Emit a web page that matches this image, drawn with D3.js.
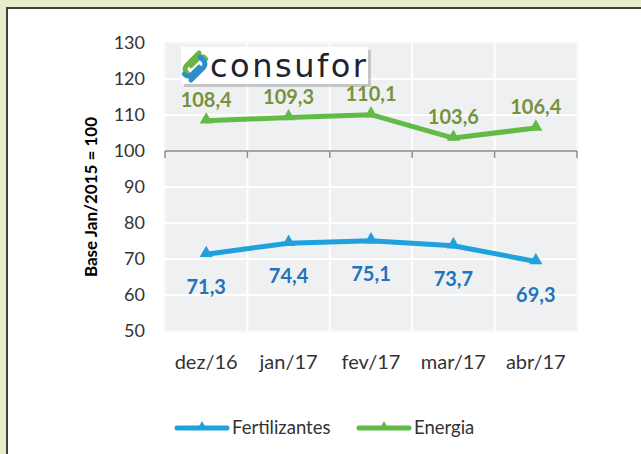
<!DOCTYPE html>
<html>
<head>
<meta charset="utf-8">
<script src="https://cdn.jsdelivr.net/npm/d3@7"></script>
<style>
  body { margin: 0; padding: 0; background: #e7edca; }
  svg { display: block; }
  text { font-family: Lato, "Open Sans", sans-serif; }
</style>
</head>
<body>
<div id="chart"></div>
<script>
// data
const months = ["dez/16", "jan/17", "fev/17", "mar/17", "abr/17"];
const fertilizantes = [71.3, 74.4, 75.1, 73.7, 69.3];
const energia = [108.4, 109.3, 110.1, 103.6, 106.4];
const yTicks = [50, 60, 70, 80, 90, 100, 110, 120, 130];
const seriesNames = ["Fertilizantes", "Energia"];

const W = 641, H = 454;
const svg = d3.select("#chart").append("svg")
    .attr("width", W)
    .attr("height", H);

// outer background + white panel with dark border
svg.append("rect").attr("width", W).attr("height", H).attr("fill", "#e7edca");
svg.append("rect")
    .attr("x", 7).attr("y", 8)
    .attr("width", W + 20).attr("height", H + 20)
    .attr("fill", "#ffffff")
    .attr("stroke", "#3d4236")
    .attr("stroke-width", 2);

// scales
const x = d3.scaleBand().domain(months).range([165, 577]);
const y = d3.scaleLinear().domain([50, 130]).range([331, 43]);

// plot area
svg.append("rect")
    .attr("x", 165).attr("y", y(130))
    .attr("width", 412).attr("height", y(50) - y(130))
    .attr("fill", "#eff0f2")
    .attr("stroke", "#f6f6f7")
    .attr("stroke-width", 2);

// gridlines
let grid = svg.append("g").attr("class", "grid");
grid.selectAll(".hgrid")
    .data(yTicks.filter(d => d !== 100 && d !== 50 && d !== 130))
    .enter().append("line")
    .attr("x1", 165).attr("x2", 577)
    .attr("y1", d => y(d)).attr("y2", d => y(d))
    .attr("stroke", "#ffffff").attr("stroke-width", 2);
grid.selectAll(".vgrid")
    .data(months.slice(1))
    .enter().append("line")
    .attr("x1", d => x(d)).attr("x2", d => x(d))
    .attr("y1", y(130)).attr("y2", y(50))
    .attr("stroke", "#ffffff").attr("stroke-width", 2);

// category axis crossing at 100
const bounds = months.map(d => x(d)).concat([x.range()[1]]);
let axisG = svg.append("g").attr("class", "x-axis");
axisG.append("line")
    .attr("x1", 165).attr("x2", 577)
    .attr("y1", y(100)).attr("y2", y(100))
    .attr("stroke", "#8c8c8c").attr("stroke-width", 1.5);
axisG.selectAll(".tick")
    .data(bounds)
    .enter().append("line")
    .attr("x1", d => d).attr("x2", d => d)
    .attr("y1", y(100)).attr("y2", y(100) + 7)
    .attr("stroke", "#8c8c8c").attr("stroke-width", 1.5);

// y tick labels
svg.selectAll(".ylab")
    .data(yTicks)
    .enter().append("text")
    .attr("x", 145)
    .attr("y", d => y(d))
    .attr("dy", "0.35em")
    .attr("text-anchor", "end")
    .style("font-size", "18px")
    .style("fill", "#333")
    .text(d => d);

// x labels
svg.selectAll(".xlab")
    .data(months)
    .enter().append("text")
    .attr("x", d => x(d) + x.bandwidth() / 2)
    .attr("y", 362)
    .attr("dy", "0.35em")
    .attr("text-anchor", "middle")
    .style("font-size", "20px")
    .style("fill", "#333")
    .text(d => d);

// y axis title
svg.append("text")
    .attr("transform", `translate(97, 197) rotate(-90)`)
    .attr("text-anchor", "middle")
    .style("font-size", "17px")
    .style("font-weight", "bold")
    .style("fill", "#000")
    .text("Base Jan/2015 = 100");

// logo
let logo = svg.append("g").attr("class", "logo");
logo.append("rect")
    .attr("x", 184).attr("y", 50).attr("width", 187).attr("height", 37)
    .attr("fill", "#9a9a9a").attr("opacity", 0.5);
logo.append("rect")
    .attr("x", 181).attr("y", 47).attr("width", 187).attr("height", 37)
    .attr("fill", "#ffffff");
logo.append("path")
    .attr("d", "M199,53 L187,65 Q183,69 187,73 L191,77")
    .attr("fill", "none").attr("stroke", "#6cb544").attr("stroke-width", 5)
    .attr("stroke-linecap", "round");
logo.append("path")
    .attr("d", "M191,66 L199,58 Q203,55 206,59")
    .attr("fill", "none").attr("stroke", "#6cb544").attr("stroke-width", 4.5)
    .attr("stroke-linecap", "round");
logo.append("path")
    .attr("d", "M191,80 L203,68 Q207,64 203,60 L200,57")
    .attr("fill", "none").attr("stroke", "#2d8fc7").attr("stroke-width", 5)
    .attr("stroke-linecap", "round");
logo.append("path")
    .attr("d", "M199,67 L191,75 Q187,78 184,74")
    .attr("fill", "none").attr("stroke", "#2d8fc7").attr("stroke-width", 4.5)
    .attr("stroke-linecap", "round");
logo.append("text")
    .attr("x", 210).attr("y", 77)
    .attr("textLength", 156)
    .attr("lengthAdjust", "spacing")
    .style("font-family", "'DejaVu Sans', sans-serif")
    .style("font-size", "32px")
    .style("fill", "#20222e")
    .text("consufor");

// lines
const colors = { Fertilizantes: "#1ea1dc", Energia: "#62bb47" };
const labelColors = { Fertilizantes: "#1f74bb", Energia: "#76933c" };
const seriesData = [
    { name: "Fertilizantes", values: fertilizantes, dy: 33 },
    { name: "Energia", values: energia, dy: -21 }
];

const line = d3.line()
    .x((d, i) => x(months[i]) + x.bandwidth() / 2)
    .y(d => y(d));
const tri = d3.symbol().type(d3.symbolTriangle).size(75);

seriesData.forEach(s => {
    let g = svg.append("g").attr("class", "series");
    g.append("path")
        .datum(s.values)
        .attr("d", line)
        .attr("fill", "none")
        .attr("stroke", colors[s.name])
        .attr("stroke-width", 5)
        .attr("stroke-linejoin", "round");
    g.selectAll(".marker")
        .data(s.values)
        .enter().append("path")
        .attr("d", tri)
        .attr("transform", (d, i) => `translate(${x(months[i]) + x.bandwidth() / 2}, ${y(d) - 1})`)
        .attr("fill", colors[s.name]);
    g.selectAll(".lab")
        .data(s.values)
        .enter().append("text")
        .attr("x", (d, i) => x(months[i]) + x.bandwidth() / 2)
        .attr("y", d => y(d) + s.dy)
        .attr("dy", "0.35em")
        .attr("text-anchor", "middle")
        .style("font-size", "20px")
        .style("font-weight", "bold")
        .style("fill", labelColors[s.name])
        .text(d => d.toFixed(1).replace(".", ","));
});

// legend
const legendX = [177, 359];
let legend = svg.append("g").attr("class", "legend");
seriesNames.forEach((name, i) => {
    let lg = legend.append("g").attr("transform", `translate(${legendX[i]}, 428)`);
    lg.append("line")
        .attr("x1", 0).attr("x2", 50)
        .attr("stroke", colors[name]).attr("stroke-width", 5)
        .attr("stroke-linecap", "round");
    lg.append("path")
        .attr("d", d3.symbol().type(d3.symbolTriangle).size(45))
        .attr("transform", "translate(25, -1)")
        .attr("fill", colors[name]);
    lg.append("text")
        .attr("x", 55)
        .attr("dy", "0.35em")
        .style("font-size", "18.5px")
        .style("fill", "#333")
        .text(name);
});
</script>
</body>
</html>
